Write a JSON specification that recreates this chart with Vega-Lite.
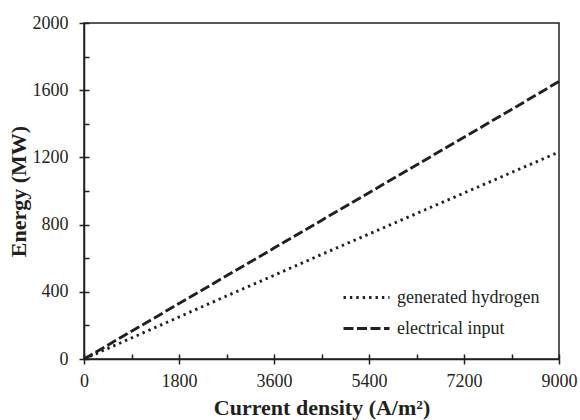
{
  "$schema": "https://vega.github.io/schema/vega-lite/v6.json",
  "width": 475,
  "height": 336,
  "autosize": "none",
  "padding": {"left": 84, "top": 23, "right": 21, "bottom": 61},
  "background": "white",
  "config": {
    "view": {"stroke": "#231f20", "strokeWidth": 1.5},
    "axis": {
      "grid": false,
      "domainColor": "#231f20",
      "domainWidth": 1.5,
      "tickColor": "#231f20",
      "tickWidth": 1.5,
      "labelFont": "Liberation Serif",
      "labelFontSize": 18,
      "labelColor": "#231f20",
      "titleFont": "Liberation Serif",
      "titleFontSize": 22,
      "titleFontWeight": "bold",
      "titleColor": "#231f20"
    },
    "legend": {
      "labelFont": "Liberation Serif",
      "labelFontSize": 18,
      "labelColor": "#231f20"
    }
  },
  "data": {
    "values": [
      {"j": 0, "energy": 0, "series": "generated hydrogen"},
      {"j": 900, "energy": 125, "series": "generated hydrogen"},
      {"j": 1800, "energy": 250, "series": "generated hydrogen"},
      {"j": 2700, "energy": 375, "series": "generated hydrogen"},
      {"j": 3600, "energy": 498, "series": "generated hydrogen"},
      {"j": 4500, "energy": 622, "series": "generated hydrogen"},
      {"j": 5400, "energy": 744, "series": "generated hydrogen"},
      {"j": 6300, "energy": 866, "series": "generated hydrogen"},
      {"j": 7200, "energy": 988, "series": "generated hydrogen"},
      {"j": 8100, "energy": 1110, "series": "generated hydrogen"},
      {"j": 9000, "energy": 1232, "series": "generated hydrogen"},
      {"j": 0, "energy": 0, "series": "electrical input"},
      {"j": 900, "energy": 165, "series": "electrical input"},
      {"j": 1800, "energy": 330, "series": "electrical input"},
      {"j": 2700, "energy": 495, "series": "electrical input"},
      {"j": 3600, "energy": 660, "series": "electrical input"},
      {"j": 4500, "energy": 825, "series": "electrical input"},
      {"j": 5400, "energy": 990, "series": "electrical input"},
      {"j": 6300, "energy": 1155, "series": "electrical input"},
      {"j": 7200, "energy": 1320, "series": "electrical input"},
      {"j": 8100, "energy": 1485, "series": "electrical input"},
      {"j": 9000, "energy": 1652, "series": "electrical input"}
    ]
  },
  "layer": [
    {
      "mark": {"type": "line", "color": "#231f20", "strokeWidth": 2.9},
      "encoding": {
        "x": {
          "field": "j", "type": "quantitative",
          "scale": {"domain": [0, 9000], "nice": false},
          "axis": {
            "orient": "bottom",
            "title": "Current density (A/m²)",
            "values": [0, 1800, 3600, 5400, 7200, 9000],
            "format": "d",
            "tickSize": 5,
            "labelPadding": 8,
            "titlePadding": 7,
            "labelFlush": false
          }
        },
        "y": {
          "field": "energy", "type": "quantitative",
          "scale": {"domain": [0, 2000], "nice": false},
          "axis": {
            "orient": "left",
            "title": "Energy (MW)",
            "values": [0, 400, 800, 1200, 1600, 2000],
            "format": "d",
            "tickSize": 5,
            "labelPadding": 11,
            "titlePadding": 2,
            "labelFlush": false
          }
        },
        "strokeDash": {
          "field": "series", "type": "nominal",
          "scale": {
            "domain": ["generated hydrogen", "electrical input"],
            "range": [[2.4, 4], [10, 3.5]]
          },
          "legend": {
            "title": null,
            "orient": "none",
            "legendX": 271,
            "legendY": 263,
            "symbolType": "M-2.3,0H2.3",
            "symbolSize": 400,
            "symbolStrokeWidth": 2.9,
            "symbolStrokeColor": "#231f20",
            "rowPadding": 10,
            "labelOffset": 19
          }
        }
      }
    },
    {
      "mark": {"type": "line", "opacity": 0},
      "encoding": {
        "x": {
          "field": "j", "type": "quantitative",
          "axis": {
            "orient": "bottom",
            "title": null,
            "values": [0, 900, 1800, 2700, 3600, 4500, 5400, 6300, 7200, 8100, 9000],
            "tickSize": -5,
            "labels": false,
            "domain": false
          }
        },
        "y": {
          "field": "energy", "type": "quantitative",
          "axis": {
            "orient": "left",
            "title": null,
            "values": [0, 200, 400, 600, 800, 1000, 1200, 1400, 1600, 1800, 2000],
            "tickSize": -5,
            "labels": false,
            "domain": false
          }
        },
        "detail": {"field": "series", "type": "nominal"}
      }
    }
  ],
  "resolve": {"axis": {"x": "independent", "y": "independent"}}
}
